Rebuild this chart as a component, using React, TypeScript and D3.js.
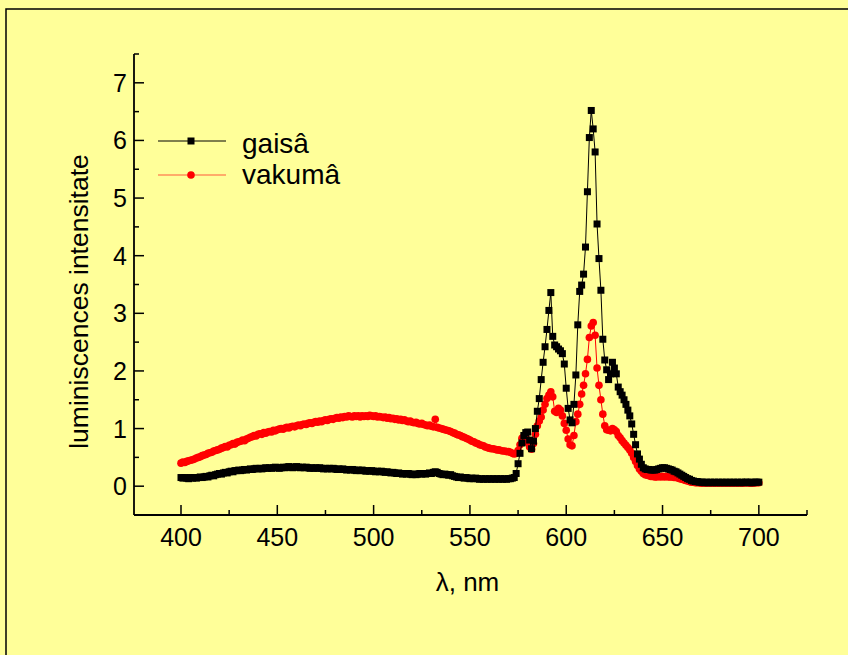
import React from 'react';
import * as d3 from 'd3';

const WIDTH = 848;
const HEIGHT = 655;

// wavelength grid, nm (1 nm step)
const wavelengths: number[] = d3.range(400, 701, 1);

// "gaisâ" (in air) intensities, 400..700 nm
const gaisa: number[] = [
  0.15,0.14,0.15,0.14,0.13,0.15,0.14,0.15,0.14,0.15,
  0.16,0.15,0.16,0.17,0.16,0.18,0.19,0.18,0.20,0.21,
  0.22,0.21,0.23,0.24,0.23,0.25,0.26,0.25,0.27,0.27,
  0.28,0.27,0.28,0.29,0.28,0.29,0.30,0.29,0.30,0.31,
  0.30,0.31,0.30,0.31,0.32,0.31,0.32,0.31,0.32,0.33,
  0.32,0.31,0.32,0.33,0.32,0.33,0.34,0.33,0.32,0.33,
  0.34,0.33,0.32,0.33,0.32,0.33,0.32,0.31,0.32,0.31,
  0.32,0.31,0.32,0.31,0.30,0.31,0.30,0.31,0.30,0.31,
  0.30,0.29,0.30,0.29,0.30,0.29,0.28,0.29,0.28,0.29,
  0.28,0.27,0.28,0.27,0.28,0.27,0.26,0.27,0.26,0.27,
  0.26,0.25,0.26,0.25,0.26,0.25,0.24,0.25,0.24,0.23,
  0.24,0.23,0.22,0.23,0.22,0.21,0.22,0.21,0.22,0.21,
  0.20,0.21,0.20,0.21,0.22,0.21,0.22,0.21,0.22,0.23,
  0.22,0.24,0.25,0.24,0.22,0.21,0.20,0.21,0.20,0.19,
  0.20,0.18,0.17,0.16,0.15,0.16,0.15,0.14,0.15,0.14,
  0.13,0.14,0.13,0.14,0.13,0.12,0.13,0.12,0.13,0.12,
  0.13,0.12,0.13,0.12,0.13,0.12,0.13,0.12,0.13,0.12,
  0.13,0.13,0.14,0.15,0.22,0.39,0.57,0.75,0.88,0.93,
  0.94,0.80,0.65,0.78,1.00,1.30,1.52,1.85,2.15,2.42,
  2.72,3.05,3.36,2.60,2.45,2.42,2.38,2.35,2.30,2.12,
  1.70,1.35,1.15,1.10,1.42,1.93,2.80,3.38,3.49,3.68,
  4.15,5.11,6.05,6.52,6.20,5.80,4.55,3.95,3.40,2.55,
  2.19,2.02,1.85,1.95,2.15,2.05,1.95,1.72,1.64,1.58,
  1.50,1.42,1.32,1.22,1.08,0.90,0.72,0.56,0.47,0.38,
  0.32,0.30,0.29,0.29,0.28,0.28,0.28,0.29,0.30,0.31,
  0.32,0.32,0.31,0.30,0.29,0.28,0.26,0.25,0.23,0.21,
  0.19,0.17,0.15,0.13,0.12,0.10,0.09,0.08,0.08,0.07,
  0.07,0.07,0.06,0.07,0.06,0.07,0.06,0.07,0.06,0.07,
  0.06,0.07,0.06,0.07,0.06,0.07,0.06,0.07,0.06,0.07,
  0.06,0.07,0.06,0.07,0.07,0.06,0.07,0.06,0.07,0.07,
  0.07,
];

// "vakumâ" (in vacuum) intensities, 400..700 nm
const vakuma: number[] = [
  0.40,0.42,0.41,0.43,0.44,0.45,0.46,0.47,0.49,0.50,
  0.51,0.53,0.54,0.55,0.57,0.58,0.59,0.61,0.62,0.63,
  0.64,0.66,0.67,0.69,0.68,0.71,0.72,0.74,0.73,0.76,
  0.77,0.78,0.80,0.79,0.82,0.83,0.85,0.86,0.88,0.87,
  0.90,0.91,0.90,0.93,0.92,0.94,0.95,0.94,0.97,0.96,
  0.98,0.99,1.00,0.99,1.01,1.02,1.01,1.03,1.04,1.03,
  1.05,1.06,1.05,1.07,1.08,1.07,1.09,1.10,1.09,1.11,
  1.12,1.11,1.13,1.12,1.14,1.15,1.14,1.16,1.17,1.16,
  1.18,1.19,1.18,1.20,1.19,1.21,1.20,1.22,1.21,1.20,
  1.22,1.21,1.22,1.20,1.22,1.21,1.22,1.21,1.23,1.22,
  1.21,1.22,1.20,1.21,1.20,1.19,1.20,1.18,1.19,1.17,
  1.18,1.16,1.17,1.15,1.16,1.14,1.15,1.13,1.12,1.13,
  1.11,1.10,1.11,1.09,1.08,1.09,1.07,1.06,1.05,1.06,
  1.04,1.03,1.16,1.02,1.01,1.00,0.99,0.98,0.97,0.96,
  0.95,0.93,0.92,0.90,0.89,0.88,0.86,0.85,0.83,0.82,
  0.80,0.78,0.77,0.75,0.74,0.72,0.71,0.70,0.68,0.67,
  0.66,0.65,0.65,0.64,0.63,0.63,0.62,0.61,0.61,0.60,
  0.60,0.59,0.57,0.56,0.57,0.62,0.72,0.83,0.86,0.84,
  0.76,0.68,0.64,0.74,0.90,1.05,1.13,1.20,1.32,1.42,
  1.52,1.58,1.64,1.55,1.30,1.28,1.35,1.32,1.22,1.09,
  0.97,0.82,0.72,0.70,0.88,1.12,1.25,1.42,1.60,1.75,
  1.95,2.20,2.58,2.78,2.84,2.62,2.05,1.75,1.50,1.25,
  1.05,0.98,0.97,0.96,1.00,0.98,0.95,0.88,0.84,0.79,
  0.75,0.71,0.67,0.63,0.57,0.50,0.43,0.36,0.30,0.26,
  0.22,0.20,0.19,0.18,0.17,0.17,0.16,0.16,0.17,0.16,
  0.17,0.16,0.17,0.16,0.16,0.16,0.15,0.15,0.14,0.13,
  0.12,0.11,0.10,0.09,0.08,0.07,0.07,0.06,0.06,0.06,
  0.05,0.06,0.05,0.06,0.05,0.06,0.05,0.06,0.05,0.06,
  0.05,0.06,0.05,0.06,0.05,0.06,0.05,0.06,0.05,0.06,
  0.05,0.06,0.05,0.06,0.06,0.05,0.06,0.05,0.06,0.06,
  0.06,
];

const xMajorTicks = [400, 450, 500, 550, 600, 650, 700];
const xMinorTicks = [425, 475, 525, 575, 625, 675, 725];
const yMajorTicks = [0, 1, 2, 3, 4, 5, 6, 7];
const yMinorTicks = [0.5, 1.5, 2.5, 3.5, 4.5, 5.5, 6.5, 7.5];
const seriesNames = ['gaisâ', 'vakumâ'];
const xTitle = 'λ, nm';
const yTitle = 'luminiscences intensitate';

const FONT = '"Liberation Sans", Arial, Helvetica, sans-serif';
const BG = '#FFFF99';

export default function App() {
  const x = d3.scaleLinear().domain([375.6, 725]).range([134, 807]);
  const y = d3.scaleLinear().domain([-0.5, 7.5]).range([515, 54]);

  const blackPts = wavelengths.map((w, i) => [w, gaisa[i]] as [number, number]);
  const redPts = wavelengths.map((w, i) => [w, vakuma[i]] as [number, number]);

  const line = d3
    .line<[number, number]>()
    .x((d) => x(d[0]))
    .y((d) => y(d[1]));

  const x0 = x.range()[0];
  const x1 = x.range()[1];
  const yBottom = y.range()[0];
  const yTop = y.range()[1];

  const majorLen = 10;
  const minorLen = 5;
  const sq = 7;
  const rr = 3.8;

  return (
    <svg
      width={WIDTH}
      height={HEIGHT}
      style={{ position: 'fixed', left: 0, top: 0, display: 'block' }}
      fontFamily={FONT}
    >
      <rect x={0} y={0} width={WIDTH} height={HEIGHT} fill={BG} />
      <rect x={6} y={9} width={WIDTH + 20} height={HEIGHT + 20} fill="none" stroke="#000" strokeWidth={1.5} />

      {/* series: red first, black on top */}
      <path d={line(redPts) || ''} fill="none" stroke="#ff0000" strokeWidth={1} />
      {redPts.map((d, i) => (
        <circle key={'r' + i} cx={x(d[0])} cy={y(d[1])} r={rr} fill="#ff0000" />
      ))}
      <path d={line(blackPts) || ''} fill="none" stroke="#000" strokeWidth={1} />
      {blackPts.map((d, i) => (
        <rect key={'b' + i} x={x(d[0]) - sq / 2} y={y(d[1]) - sq / 2} width={sq} height={sq} fill="#000" />
      ))}

      {/* axes */}
      <line x1={x0} y1={yTop} x2={x0} y2={yBottom} stroke="#000" strokeWidth={1.8} />
      <line x1={x0} y1={yBottom} x2={x1} y2={yBottom} stroke="#000" strokeWidth={1.8} />

      {xMajorTicks.map((t) => (
        <g key={'xt' + t}>
          <line x1={x(t)} x2={x(t)} y1={yBottom} y2={yBottom - majorLen} stroke="#000" strokeWidth={1.5} />
          <text x={x(t)} y={yBottom + 31} textAnchor="middle" fontSize={25} fill="#000">
            {t}
          </text>
        </g>
      ))}
      {xMinorTicks.map((t) => (
        <line key={'xm' + t} x1={x(t)} x2={x(t)} y1={yBottom} y2={yBottom - minorLen} stroke="#000" strokeWidth={1.5} />
      ))}
      {yMajorTicks.map((t) => (
        <g key={'yt' + t}>
          <line x1={x0} x2={x0 + majorLen} y1={y(t)} y2={y(t)} stroke="#000" strokeWidth={1.5} />
          <text x={x0 - 7} y={y(t)} dy="0.36em" textAnchor="end" fontSize={25} fill="#000">
            {t}
          </text>
        </g>
      ))}
      {yMinorTicks.map((t) => (
        <line key={'ym' + t} x1={x0} x2={x0 + minorLen} y1={y(t)} y2={y(t)} stroke="#000" strokeWidth={1.5} />
      ))}

      {/* axis titles */}
      <text x={(x0 + x1) / 2 - 3} y={591} textAnchor="middle" fontSize={26} fill="#000">
        {xTitle}
      </text>
      <text
        transform={`translate(88, ${(yTop + yBottom) / 2 + 17}) rotate(-90)`}
        textAnchor="middle"
        fontSize={26.5}
        fill="#000"
      >
        {yTitle}
      </text>

      {/* legend */}
      <g>
        <line x1={158} x2={226} y1={141} y2={141} stroke="#000" strokeWidth={1} />
        <rect x={191 - sq / 2} y={141 - sq / 2} width={sq} height={sq} fill="#000" />
        <text x={242} y={153} fontSize={28} fill="#000">
          {seriesNames[0]}
        </text>
        <line x1={158} x2={226} y1={175} y2={175} stroke="#ff5a3c" strokeWidth={1.2} />
        <circle cx={191} cy={175} r={rr} fill="#ff0000" />
        <text x={242} y={184} fontSize={28} fill="#000">
          {seriesNames[1]}
        </text>
      </g>
    </svg>
  );
}
